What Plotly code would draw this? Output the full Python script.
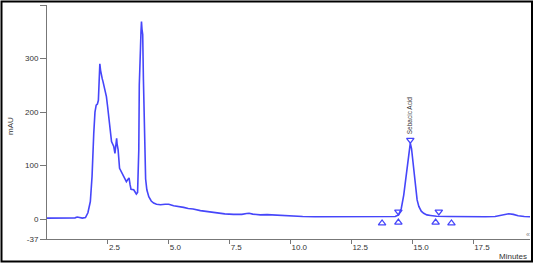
import plotly.graph_objects as go

# chromatogram trace (minutes, mAU)
time = [0.0, 0.5, 1.0, 1.15, 1.24, 1.33, 1.45, 1.58, 1.68, 1.78, 1.85, 1.92, 1.97, 2.02, 2.07,
        2.11, 2.14, 2.17, 2.20, 2.23, 2.27, 2.30, 2.37, 2.44, 2.49, 2.54, 2.60, 2.65, 2.70, 2.74,
        2.79, 2.83, 2.86, 2.88, 2.92, 2.98, 3.05, 3.12, 3.19, 3.26, 3.32, 3.37, 3.41, 3.45, 3.56,
        3.63, 3.67, 3.72, 3.75, 3.77, 3.79, 3.81, 3.84, 3.86, 3.88, 3.90, 3.93, 3.96, 3.99, 4.02,
        4.05, 4.10, 4.18, 4.28, 4.38, 4.5, 4.66, 4.85, 5.0, 5.2, 5.4, 5.61, 5.8, 6.0, 6.3, 6.6,
        6.98, 7.3, 7.66, 8.0, 8.2, 8.3, 8.45, 8.76, 9.04, 9.5, 10.13, 10.5, 11.0, 11.5, 12.0,
        12.5, 13.0, 13.5, 14.0, 14.3, 14.44, 14.55, 14.65, 14.76, 14.86, 14.92, 14.97, 15.03,
        15.08, 15.13, 15.2, 15.27, 15.37, 15.47, 15.6, 15.75, 16.0, 16.5, 17.0, 17.5, 18.0,
        18.4, 18.6, 18.8, 18.96, 19.15, 19.35, 19.6, 19.84]
mau = [2, 2, 2, 2.5, 4, 2.5, 2, 3, 12, 33, 80, 160, 200, 213, 215,
       222, 275, 290, 278, 268, 262, 257, 245, 229, 210, 192, 165, 145, 140, 136,
       123, 135, 151, 140, 130, 95, 88, 83, 76, 70, 74, 77, 65, 56, 55,
       50, 47, 50, 90, 130, 250, 318, 320, 350, 369, 355, 345, 260, 180, 110,
       75, 55, 42, 34, 30, 28, 27, 28, 28, 25, 24, 22, 20, 19, 16, 14,
       11, 10, 9, 9, 10.5, 11, 9.5, 8, 8.5, 7, 5, 5, 4.5, 4.5, 4,
       4, 4, 4, 4.5, 5, 8, 20, 45, 86, 130, 142, 132, 105,
       80, 55, 36, 24, 15, 11, 8, 7, 5.5, 5, 4.5, 4.5, 4.5,
       5, 7, 9.5, 10, 9, 6.5, 5, 4.5]

# peak event markers
peak_name = "Sebacic Acid"
apex_time = [14.92]
apex_mau = [148]
edge_time = [14.43, 16.09]
edge_mau = [14, 14]
base_time = [13.76, 14.43, 15.96, 16.61]
base_mau = [-7.5, -6, -6, -7.5]

x_tickvals = [2.5, 5.0, 7.5, 10.0, 12.5, 15.0, 17.5]
x_ticktext = ["2.5", "5.0", "7.5", "10.0", "12.5", "15.0", "17.5"]
y_tickvals = [-37, 0, 100, 200, 300, 400]
y_ticktext = ["-37", "0", "100", "200", "300", ""]

W, H = 535, 265
ML, MR, MT, MB = 47, 5, 5, 26
PW, PH = W - ML - MR, H - MT - MB

blue = "rgb(70,70,250)"
fnt = "Liberation Sans, Arial, sans-serif"

fig = go.Figure()
fig.add_trace(go.Scatter(x=time, y=mau, mode="lines",
                         line=dict(color=blue, width=1.6), hoverinfo="skip"))
fig.add_trace(go.Scatter(x=apex_time + edge_time, y=apex_mau + edge_mau, mode="markers",
                         marker=dict(symbol="triangle-down-open", size=6.5, color=blue,
                                     line=dict(width=1.3, color=blue))))
fig.add_trace(go.Scatter(x=base_time, y=base_mau, mode="markers",
                         marker=dict(symbol="triangle-up-open", size=6.5, color=blue,
                                     line=dict(width=1.3, color=blue))))

fig.add_annotation(x=apex_time[0], y=apex_mau[0], text=peak_name, textangle=-90,
                   showarrow=False, yanchor="bottom", xanchor="center", yshift=4,
                   font=dict(size=6.5, color="#333", family=fnt))


def px(xp):
    return (xp - ML) / PW


def py(yp):
    return (H - MB - yp) / PH


fig.add_annotation(xref="paper", yref="paper", x=px(529), y=py(256.5), text="Minutes",
                   showarrow=False, xanchor="right", yanchor="middle",
                   font=dict(size=8, color="#333", family=fnt))
fig.add_annotation(xref="paper", yref="paper", x=px(11), y=py(126), text="mAU",
                   textangle=-90, showarrow=False, xanchor="center", yanchor="middle",
                   font=dict(size=8, color="#333", family=fnt))
fig.add_annotation(xref="paper", yref="paper", x=px(528), y=py(234), text="«",
                   showarrow=False, xanchor="center", yanchor="middle",
                   font=dict(size=7, color="#888", family=fnt))

# outer frame
fig.add_shape(type="rect", xref="paper", yref="paper",
              x0=px(1.5), x1=px(532), y0=py(261.5), y1=py(1.5),
              line=dict(color="black", width=2))

fig.update_xaxes(range=[0, PW / 24.35], tickvals=x_tickvals, ticktext=x_ticktext,
                 showgrid=False, zeroline=False, showline=True, linecolor="#777",
                 linewidth=1, ticks="outside", ticklen=4, tickcolor="#777",
                 ticklabelposition="outside right",
                 tickfont=dict(size=8, color="#333", family=fnt))
fig.update_yaxes(range=[-37, 400], tickvals=y_tickvals, ticktext=y_ticktext,
                 showgrid=False, zeroline=False, showline=True, linecolor="#777",
                 linewidth=1, ticks="outside", ticklen=6, tickcolor="#777",
                 tickfont=dict(size=8, color="#333", family=fnt))

fig.update_layout(width=W, height=H, margin=dict(l=ML, r=MR, t=MT, b=MB),
                  paper_bgcolor="white", plot_bgcolor="white", showlegend=False)

fig.write_html("out.html")
